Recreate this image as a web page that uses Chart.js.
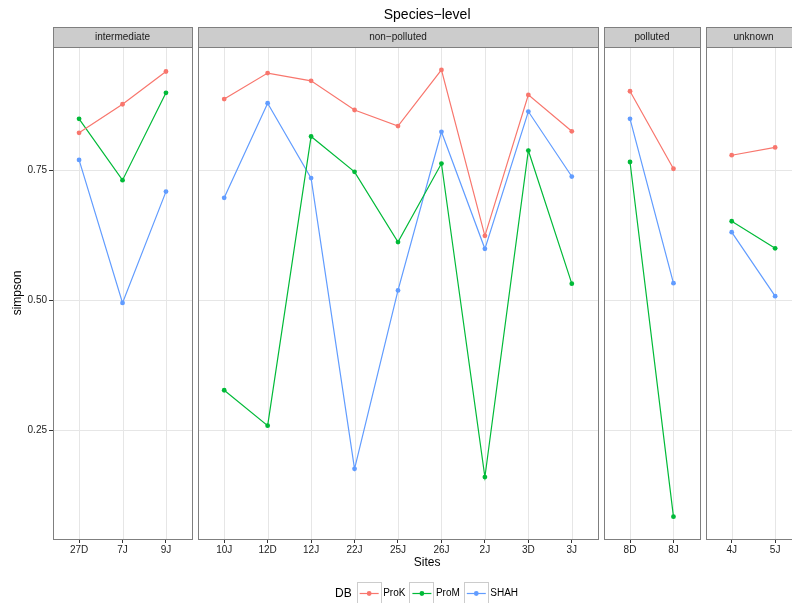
<!DOCTYPE html>
<html>
<head>
<meta charset="utf-8">
<script src="https://cdn.jsdelivr.net/npm/chart.js@4"></script>
<style>
  html, body { margin: 0; padding: 0; background: #fff; }
  #chart { display: block; }
</style>
</head>
<body>
<canvas id="chart" width="792" height="603"></canvas>
<script>
const facetNames = ['intermediate', 'non\u2212polluted', 'polluted', 'unknown'];
const facetSites = [
    ['27D', '7J', '9J'],
    ['10J', '12D', '12J', '22J', '25J', '26J', '2J', '3D', '3J'],
    ['8D', '8J'],
    ['4J', '5J']
];
const seriesNames = ['ProK', 'ProM', 'SHAH'];
const seriesColors = ['#F8766D', '#00BA38', '#619CFF'];

// simpson index per site, same order as facetSites flattened
const prokValues = [0.822, 0.877, 0.940, 0.887, 0.937, 0.922, 0.866, 0.835, 0.943, 0.624, 0.895, 0.825, 0.902, 0.753, 0.779, 0.794];
const promValues = [0.849, 0.731, 0.899, 0.327, 0.259, 0.815, 0.747, 0.612, 0.763, 0.160, 0.788, 0.532, 0.766, 0.084, 0.652, 0.600];
const shahValues = [0.770, 0.495, 0.709, 0.697, 0.879, 0.735, 0.176, 0.519, 0.824, 0.599, 0.863, 0.738, 0.849, 0.533, 0.631, 0.508];

const yTicks = [0.25, 0.50, 0.75];

const FONT = "'Liberation Sans', Arial, Helvetica, sans-serif";
const EXPAND = 0.6;   // discrete axis expansion on each side
const GAP = 0.14;     // space between panels, in category units

const siteLabels = facetSites.flat();

// lay the facets out on one continuous x axis
let cursor = 0;
const panels = facetSites.map((sites, i) => {
    const start = cursor;
    const end = start + sites.length - 1 + 2 * EXPAND;
    cursor = end + GAP;
    return { name: facetNames[i], start, end, xs: sites.map((_, j) => start + EXPAND + j) };
});
const sitePositions = panels.flatMap(p => p.xs);

function seriesPoints(values) {
    const pts = [];
    let k = 0;
    panels.forEach((p, fi) => {
        if (fi > 0) pts.push({ x: p.start - GAP / 2, y: null }); // break the line between facets
        p.xs.forEach(x => pts.push({ x, y: values[k++] }));
    });
    return pts;
}

const allValues = [prokValues, promValues, shahValues];

function crisp(v) { return Math.round(v) + 0.5; }

const facetPlugin = {
    id: 'facets',
    beforeDatasetsDraw(chart) {
        const { ctx, chartArea: a, scales: { x, y } } = chart;
        ctx.save();
        ctx.lineWidth = 1;
        ctx.strokeStyle = '#E6E6E6';
        panels.forEach(p => {
            const l = x.getPixelForValue(p.start);
            const r = Math.min(x.getPixelForValue(p.end), chart.width + 2);
            yTicks.forEach(v => {
                const py = crisp(y.getPixelForValue(v));
                ctx.beginPath(); ctx.moveTo(l, py); ctx.lineTo(r, py); ctx.stroke();
            });
            p.xs.forEach(v => {
                const px = crisp(x.getPixelForValue(v));
                ctx.beginPath(); ctx.moveTo(px, a.top); ctx.lineTo(px, a.bottom); ctx.stroke();
            });
        });
        ctx.restore();
    },
    afterDatasetsDraw(chart) {
        const { ctx, chartArea: a, scales: { x } } = chart;
        const stripTop = 27;
        ctx.save();
        ctx.lineWidth = 1;
        panels.forEach(p => {
            const l = Math.round(x.getPixelForValue(p.start));
            const r = Math.round(x.getPixelForValue(p.end));
            // strip
            ctx.fillStyle = '#CCCCCC';
            ctx.fillRect(l, stripTop, r - l, a.top - stripTop);
            ctx.strokeStyle = '#7F7F7F';
            ctx.strokeRect(l + 0.5, stripTop + 0.5, r - l, a.top - stripTop);
            ctx.fillStyle = '#1A1A1A';
            ctx.font = '10px ' + FONT;
            ctx.textAlign = 'center';
            ctx.textBaseline = 'middle';
            ctx.fillText(p.name, (l + r) / 2, (stripTop + a.top) / 2 + 0.5);
            // panel border
            ctx.strokeRect(l + 0.5, Math.round(a.top) + 0.5, r - l, Math.round(a.bottom - a.top));
        });

        const midX = (x.getPixelForValue(0) + x.getPixelForValue(panels[panels.length - 1].end)) / 2;

        // title and axis titles
        ctx.fillStyle = '#000';
        ctx.textAlign = 'center';
        ctx.textBaseline = 'middle';
        ctx.font = '14px ' + FONT;
        ctx.fillText('Species\u2212level', midX, 15);
        ctx.font = '12px ' + FONT;
        ctx.fillText('Sites', midX, 563);
        ctx.save();
        ctx.translate(18, (a.top + a.bottom) / 2);
        ctx.rotate(-Math.PI / 2);
        ctx.fillText('simpson', 0, 0);
        ctx.restore();

        // legend
        const cy = 593.5;
        let lx = 335;
        ctx.textAlign = 'left';
        ctx.font = '12px ' + FONT;
        ctx.fillText('DB', lx, cy);
        lx += ctx.measureText('DB').width + 5;
        ctx.font = '10px ' + FONT;
        seriesNames.forEach((name, i) => {
            const bw = 24;
            ctx.fillStyle = '#fff';
            ctx.fillRect(lx, 582, bw, bw);
            ctx.strokeStyle = '#CCCCCC';
            ctx.strokeRect(Math.round(lx) + 0.5, 582.5, bw, bw);
            ctx.strokeStyle = seriesColors[i];
            ctx.lineWidth = 1.2;
            ctx.beginPath(); ctx.moveTo(lx + 3, cy); ctx.lineTo(lx + bw - 2, cy); ctx.stroke();
            ctx.fillStyle = seriesColors[i];
            ctx.beginPath(); ctx.arc(lx + bw / 2 + 0.5, cy, 2.4, 0, Math.PI * 2); ctx.fill();
            ctx.lineWidth = 1;
            lx += bw + 2.5;
            ctx.fillStyle = '#000';
            ctx.fillText(name, lx, cy);
            lx += ctx.measureText(name).width + 4;
        });
        ctx.restore();
    }
};

const ctx = document.getElementById('chart').getContext('2d');
new Chart(ctx, {
    type: 'line',
    data: {
        datasets: seriesNames.map((name, i) => ({
            label: name,
            data: seriesPoints(allValues[i]),
            borderColor: seriesColors[i],
            backgroundColor: seriesColors[i],
            borderWidth: 1.2,
            pointRadius: 2.4,
            pointBorderWidth: 0,
            pointHoverRadius: 2.4,
            spanGaps: false,
            tension: 0
        }))
    },
    options: {
        responsive: false,
        devicePixelRatio: 1,
        animation: false,
        layout: { autoPadding: false, padding: { top: 47, right: 0, bottom: 44, left: 0 } },
        plugins: {
            legend: { display: false },
            title: { display: false },
            tooltip: { enabled: false }
        },
        scales: {
            x: {
                type: 'linear',
                min: 0,
                max: (792 - 53) / 43.45,
                afterBuildTicks: scale => { scale.ticks = sitePositions.map(v => ({ value: v })); },
                afterFit: scale => {
                    scale.height = 20;
                    scale.paddingLeft = 0;
                    scale.paddingRight = 0;
                },
                border: { display: false },
                grid: { drawOnChartArea: false, drawTicks: true, tickLength: 4, tickColor: '#333', tickWidth: 1 },
                ticks: {
                    autoSkip: false,
                    maxRotation: 0,
                    padding: 1,
                    color: '#222',
                    font: { family: FONT, size: 10 },
                    callback: (v, i) => siteLabels[i]
                }
            },
            y: {
                min: 0.041,
                max: 0.9871,
                afterBuildTicks: scale => { scale.ticks = yTicks.map(v => ({ value: v })); },
                afterFit: scale => { scale.width = 53; },
                border: { display: false },
                grid: { drawOnChartArea: false, drawTicks: true, tickLength: 4, tickColor: '#333', tickWidth: 1 },
                ticks: {
                    padding: 2,
                    color: '#222',
                    font: { family: FONT, size: 10 },
                    callback: v => v.toFixed(2)
                }
            }
        }
    },
    plugins: [facetPlugin]
});
</script>
</body>
</html>
